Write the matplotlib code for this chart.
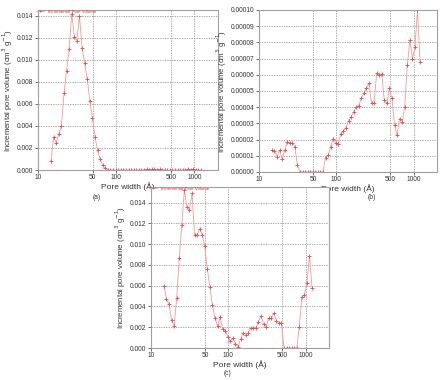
import numpy as np
import matplotlib
matplotlib.use("Agg")
import matplotlib.pyplot as plt
from matplotlib.ticker import FixedLocator, FixedFormatter, NullLocator

plt.rcParams["font.family"] = ["Liberation Sans", "DejaVu Sans"]

# pore widths (A), shared by all three samples
width = [14.7, 15.86, 17.11, 18.46, 19.92, 21.5, 23.2, 25.0, 27.0, 29.1,
         31.4, 33.9, 36.6, 39.5, 42.6, 45.9, 49.6, 53.5, 57.7, 62.3,
         67.2, 72.5, 78.2, 84.4, 91.1, 98.3, 106.0, 114.4, 123.5, 133.2,
         143.7, 155.1, 167.3, 180.5, 194.8, 210.2, 226.8, 244.7, 264.0, 284.9,
         307.4, 331.7, 357.9, 386.2, 416.7, 449.6, 485.1, 523.4, 564.8, 609.4,
         657.5, 709.5, 765.5, 826.0, 891.3, 961.7, 1037.7, 1119.6, 1208.1]
vol_a = [0.00085, 0.00303, 0.00243, 0.00327, 0.0040, 0.00697, 0.0090, 0.01097, 0.01418, 0.01206,
         0.01173, 0.01394, 0.01106, 0.0097, 0.00824, 0.0063, 0.0047, 0.00303, 0.0018, 0.00097,
         0.00045, 0.00015, 0.00003, 0.0, 0.0, 0.0, 0.0, 0.0, 0.0, 0.0,
         0.0, 0.0, 0.0, 0.0, 0.0, 0.0, 0.00002, 0.00005, 0.00004, 0.00006,
         0.00005, 0.00003, 0.00005, 0.00004, 0.00002, 0.0, 0.0, 0.0, 0.0, 0.0,
         0.0, 0.0, 0.00002, 0.00005, 0.00004, 0.00006, 0.00004, 0.00001, 0.0]
vol_b = [1.34e-5, 1.30e-5, 0.93e-5, 1.34e-5, 0.83e-5, 1.34e-5, 1.86e-5, 1.80e-5, 1.80e-5, 1.55e-5,
         0.41e-5, 0.0, 0.0, 0.0, 0.0, 0.0, 0.0, 0.0, 0.0, 0.0,
         0.0, 0.89e-5, 1.03e-5, 1.55e-5, 2.06e-5, 1.80e-5, 1.75e-5, 2.37e-5, 2.52e-5, 2.74e-5,
         3.15e-5, 3.40e-5, 3.71e-5, 4.02e-5, 4.10e-5, 4.54e-5, 4.85e-5, 5.16e-5, 5.47e-5, 4.23e-5,
         4.27e-5, 6.08e-5, 5.98e-5, 6.03e-5, 4.43e-5, 4.23e-5, 5.16e-5, 4.54e-5, 2.89e-5, 2.27e-5,
         3.30e-5, 3.10e-5, 4.02e-5, 6.60e-5, 8.14e-5, 7.00e-5, 7.70e-5, 10.0e-5, 6.80e-5]
vol_c = [0.0060, 0.0047, 0.00425, 0.0027, 0.00213, 0.0048, 0.00867, 0.0118, 0.0152, 0.0136,
         0.01327, 0.01488, 0.0109, 0.0109, 0.01147, 0.0109, 0.0098, 0.0076, 0.00586, 0.00415,
         0.00287, 0.00213, 0.00296, 0.00183, 0.00168, 0.0011, 0.00068, 0.00093, 0.00039, 0.00013,
         0.00084, 0.00142, 0.0013, 0.00142, 0.00196, 0.0019, 0.00196, 0.00254, 0.0031, 0.00232,
         0.00206, 0.00287, 0.00287, 0.00335, 0.00264, 0.00238, 0.00245, 0.0, 0.0, 0.0,
         0.0, 0.0, 0.0, 0.00206, 0.0049, 0.00512, 0.00625, 0.0089, 0.00577]

xticks = [10, 50, 100, 500, 1000]
yt_ac = [0.000, 0.002, 0.004, 0.006, 0.008, 0.010, 0.012, 0.014]
yt_b = [i * 1e-5 for i in range(11)]

LINE = "#f29a9a"; MARK = "#e04a4a"; GRID = "#8c8c8c"; FRAME = "#a0a0a0"
YLAB = "Incremental pore volume (cm$^3$ g$^{-1}$)"

fig = plt.figure(figsize=(4.45, 3.8), dpi=100)
fig.patch.set_facecolor("white")

def panel(rect, y, ylim, yt, fmt, legend=True):
    ax = fig.add_axes(rect)
    ax.plot(width, y, color=LINE, lw=0.6, marker="+", ms=2.6, mec=MARK, mew=0.6,
            label="Incremental Pore Volume")
    ax.set_xscale("log"); ax.set_xlim(10, 2000); ax.set_ylim(*ylim)
    ax.xaxis.set_major_locator(FixedLocator(xticks))
    ax.xaxis.set_major_formatter(FixedFormatter([str(t) for t in xticks]))
    ax.xaxis.set_minor_locator(NullLocator())
    ax.set_yticks(yt); ax.set_yticklabels([fmt % v for v in yt])
    ax.grid(True, color=GRID, lw=0.5, ls=(0, (2, 1.5)))
    ax.tick_params(labelsize=4.8, length=2, width=0.5, colors="#333333", pad=1.2)
    for s in ax.spines.values(): s.set_color(FRAME); s.set_linewidth(0.8)
    ax.set_xlabel("Pore width (\u00c5)", fontsize=6, color="#333333", labelpad=0.6)
    ax.set_ylabel(YLAB, fontsize=5.6, color="#333333", labelpad=1.5)
    if legend:
        ax.legend(loc="lower left", bbox_to_anchor=(-0.01, 0.975), fontsize=3.2, frameon=False,
                  labelcolor="#e03030", handlelength=1.8, borderpad=0, borderaxespad=0, markerscale=0.6)
    return ax

panel([0.0854, 0.5526, 0.4045, 0.421], vol_a, (0, 0.0145), yt_ac, "%.3f")
panel([0.582, 0.5474, 0.40, 0.4263], vol_b, (0, 0.0001), yt_b, "%.5f", legend=False)
panel([0.3393, 0.0842, 0.40, 0.4237], vol_c, (0, 0.0155), yt_ac, "%.3f")

for x, y, t in [(0.218, 0.479, "(a)"), (0.836, 0.479, "(b)"), (0.512, 0.016, "(c)")]:
    fig.text(x, y, t, fontsize=4.8, color="#333333", ha="center", va="center")

fig.savefig("out.png", dpi=100, facecolor="white")
